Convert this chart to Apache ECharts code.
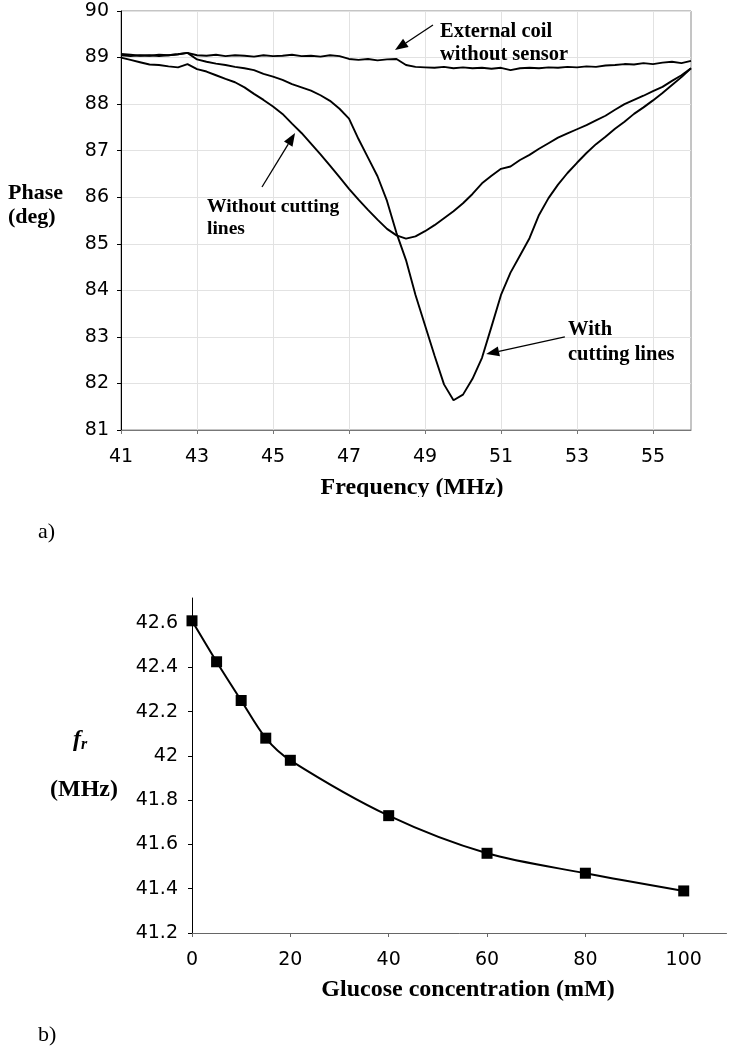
<!DOCTYPE html>
<html>
<head>
<meta charset="utf-8">
<script src="https://cdn.jsdelivr.net/npm/echarts@6/dist/echarts.min.js"></script>
<style>
  html, body { margin: 0; padding: 0; background: #fff; }
  #main { width: 735px; height: 1050px; }
</style>
</head>
<body>
<div id="main"></div>
<script>
// chart a) phase vs frequency
var freq = [41, 41.25, 41.5, 41.75, 42, 42.25, 42.5, 42.75, 43, 43.25, 43.5, 43.75,
  44, 44.25, 44.5, 44.75, 45, 45.25, 45.5, 45.75, 46, 46.25, 46.5, 46.75,
  47, 47.25, 47.5, 47.75, 48, 48.25, 48.5, 48.75, 49, 49.25, 49.5, 49.75,
  50, 50.25, 50.5, 50.75, 51, 51.25, 51.5, 51.75, 52, 52.25, 52.5, 52.75,
  53, 53.25, 53.5, 53.75, 54, 54.25, 54.5, 54.75, 55, 55.25, 55.5, 55.75, 56];

var coilOnly = [89.08, 89.06, 89.04, 89.05, 89.03, 89.05, 89.07, 89.10, 89.05, 89.04, 89.06, 89.03,
  89.05, 89.04, 89.02, 89.05, 89.03, 89.04, 89.06, 89.03, 89.04, 89.02, 89.05, 89.03,
  88.97, 88.95, 88.97, 88.94, 88.96, 88.97, 88.84, 88.80, 88.79, 88.78, 88.80, 88.77,
  88.79, 88.77, 88.78, 88.76, 88.78, 88.73, 88.77, 88.78, 88.77, 88.79, 88.78, 88.80,
  88.79, 88.81, 88.80, 88.83, 88.84, 88.86, 88.85, 88.88, 88.86, 88.89, 88.91, 88.88, 88.93];

var noCutting = [89.00, 88.95, 88.90, 88.85, 88.84, 88.81, 88.79, 88.86, 88.75, 88.70, 88.62, 88.54,
  88.47, 88.36, 88.22, 88.09, 87.95, 87.79, 87.58, 87.38, 87.15, 86.92, 86.68, 86.43,
  86.18, 85.95, 85.73, 85.52, 85.32, 85.18, 85.11, 85.16, 85.27, 85.40, 85.55, 85.70,
  85.87, 86.07, 86.30, 86.46, 86.61, 86.66, 86.80, 86.91, 87.04, 87.16, 87.28, 87.37,
  87.46, 87.55, 87.65, 87.75, 87.88, 88.00, 88.09, 88.18, 88.28, 88.37, 88.50, 88.62, 88.77];

var withCutting = [89.05, 89.03, 89.05, 89.04, 89.06, 89.05, 89.07, 89.10, 88.96, 88.91, 88.87, 88.84,
  88.80, 88.77, 88.73, 88.65, 88.59, 88.52, 88.43, 88.36, 88.29, 88.19, 88.07, 87.90,
  87.69, 87.25, 86.85, 86.45, 85.92, 85.23, 84.65, 83.90, 83.25, 82.60, 81.98, 81.64,
  81.76, 82.10, 82.55, 83.22, 83.90, 84.38, 84.75, 85.12, 85.62, 85.98, 86.27, 86.52,
  86.74, 86.95, 87.14, 87.30, 87.47, 87.62, 87.79, 87.93, 88.08, 88.24, 88.41, 88.58, 88.77];

var freqTicks = [41, 43, 45, 47, 49, 51, 53, 55];

// chart b) resonant frequency vs glucose
var glucose = [0, 5, 10, 15, 20, 40, 60, 80, 100];
var fr = [42.61, 42.425, 42.25, 42.08, 41.98, 41.73, 41.56, 41.47, 41.39];
var glucoseTicks = [0, 20, 40, 60, 80, 100];
var frTicks = [41.2, 41.4, 41.6, 41.8, 42, 42.2, 42.4, 42.6];

// arrows in data coords of chart a): [tail, tip]
var arrows = [
  [[44.71, 86.22], [45.58, 87.38]],
  [[49.21, 89.70], [48.21, 89.16]],
  [[52.68, 83.00], [50.61, 82.63]]
];

function pair(xs, ys) {
  var out = [];
  for (var i = 0; i < xs.length; i++) out.push([xs[i], ys[i]]);
  return out;
}

var labelFont = { fontFamily: 'DejaVu Sans', fontSize: 19, color: '#000' };
var serif = 'Liberation Serif';

var chart = echarts.init(document.getElementById('main'));

var option = {
  animation: false,
  backgroundColor: '#fff',
  grid: [
    { left: 121, top: 11, width: 570, height: 419, show: true, borderColor: '#8a8a8a', borderWidth: 1 },
    { left: 192, top: 598, width: 534.5, height: 335 }
  ],
  xAxis: [
    {
      gridIndex: 0, type: 'value', min: 41, max: 56, interval: 2,
      axisLine: { lineStyle: { color: '#777', width: 1 } },
      axisTick: { length: 4, lineStyle: { color: '#777' }, customValues: freqTicks },
      axisLabel: Object.assign({ margin: 18, customValues: freqTicks }, labelFont),
      splitLine: { show: true, lineStyle: { color: '#e2e2e2', width: 1 } }
    },
    {
      gridIndex: 1, type: 'value', min: 0, max: 108.7,
      axisLine: { lineStyle: { color: '#666', width: 1 } },
      axisTick: { length: 4, lineStyle: { color: '#666' }, customValues: glucoseTicks },
      axisLabel: Object.assign({ margin: 18, customValues: glucoseTicks }, labelFont),
      splitLine: { show: false }
    }
  ],
  yAxis: [
    {
      gridIndex: 0, type: 'value', min: 81, max: 90, interval: 1,
      axisLine: { show: true, lineStyle: { color: '#000', width: 1 } },
      axisTick: { show: true, length: 4, lineStyle: { color: '#000' } },
      axisLabel: Object.assign({ margin: 12 }, labelFont),
      splitLine: { show: true, lineStyle: { color: '#e2e2e2', width: 1 } }
    },
    {
      gridIndex: 1, type: 'value', min: 41.2, max: 42.713,
      axisLine: { show: true, lineStyle: { color: '#000', width: 1 } },
      axisTick: { show: true, length: 4, lineStyle: { color: '#000' }, customValues: frTicks },
      axisLabel: Object.assign({ margin: 14, customValues: frTicks }, labelFont),
      splitLine: { show: false }
    }
  ],
  series: [
    {
      name: 'External coil without sensor', type: 'line', xAxisIndex: 0, yAxisIndex: 0,
      data: pair(freq, coilOnly), showSymbol: false,
      lineStyle: { color: '#000', width: 1.9 }
    },
    {
      name: 'Without cutting lines', type: 'line', xAxisIndex: 0, yAxisIndex: 0,
      data: pair(freq, noCutting), showSymbol: false,
      lineStyle: { color: '#000', width: 1.9 }
    },
    {
      name: 'With cutting lines', type: 'line', xAxisIndex: 0, yAxisIndex: 0,
      data: pair(freq, withCutting), showSymbol: false,
      lineStyle: { color: '#000', width: 1.9 }
    },
    {
      name: 'fr', type: 'line', xAxisIndex: 1, yAxisIndex: 1,
      data: pair(glucose, fr), smooth: 0.3,
      symbol: 'rect', symbolSize: 11,
      itemStyle: { color: '#000' },
      lineStyle: { color: '#000', width: 2 }
    }
  ]
};

chart.setOption(option);

// texts and arrows
var graphics = [];

function text(str, x, y, size, opts) {
  opts = opts || {};
  graphics.push({
    type: 'text', x: x, y: y, z: 10,
    style: {
      text: str,
      fontFamily: serif,
      fontSize: size,
      fontWeight: opts.weight || 'bold',
      fontStyle: opts.style || 'normal',
      fill: '#000',
      align: opts.align || 'left',
      verticalAlign: 'middle'
    }
  });
}

text('Phase', 8, 193, 22);
text('(deg)', 8, 217, 22);
text('Without cutting', 207, 207, 19.5);
text('lines', 207, 229, 19.5);
text('External coil', 440, 32, 20.5);
text('without sensor', 440, 55, 20.5);
text('With', 568, 330, 20.5);
text('cutting lines', 568, 355, 20.5);
text('Frequency (MHz)', 412, 488, 24, { align: 'center' });
// the original axis title is clipped at the bottom
graphics.push({ type: 'rect', z: 11, shape: { x: 300, y: 497, width: 230, height: 14 }, style: { fill: '#fff' } });
text('a)', 38, 532, 22, { weight: 'normal' });

graphics.push({
  type: 'text', x: 73, y: 740, z: 10,
  style: {
    text: '{f|f}{r|r}',
    verticalAlign: 'middle',
    rich: {
      f: { fontFamily: serif, fontSize: 24, fontWeight: 'bold', fontStyle: 'italic', fill: '#000' },
      r: { fontFamily: serif, fontSize: 16, fontWeight: 'bold', fontStyle: 'italic', fill: '#000', padding: [10, 0, 0, 0] }
    }
  }
});
text('(MHz)', 50, 790, 24);
text('Glucose concentration (mM)', 468, 990, 24, { align: 'center' });
text('b)', 38, 1035, 22, { weight: 'normal' });

for (var i = 0; i < arrows.length; i++) {
  var p0 = chart.convertToPixel({ gridIndex: 0 }, arrows[i][0]);
  var p1 = chart.convertToPixel({ gridIndex: 0 }, arrows[i][1]);
  var dx = p1[0] - p0[0], dy = p1[1] - p0[1];
  var len = Math.sqrt(dx * dx + dy * dy);
  var ux = dx / len, uy = dy / len;
  var headLen = 13, headHalf = 5;
  var bx = p1[0] - ux * headLen, by = p1[1] - uy * headLen;
  graphics.push({
    type: 'line', z: 10,
    shape: { x1: p0[0], y1: p0[1], x2: bx, y2: by },
    style: { stroke: '#000', lineWidth: 1.3 }
  });
  graphics.push({
    type: 'polygon', z: 10,
    shape: { points: [[p1[0], p1[1]], [bx - uy * headHalf, by + ux * headHalf], [bx + uy * headHalf, by - ux * headHalf]] },
    style: { fill: '#000' }
  });
}

chart.setOption({ graphic: graphics });
</script>
</body>
</html>
